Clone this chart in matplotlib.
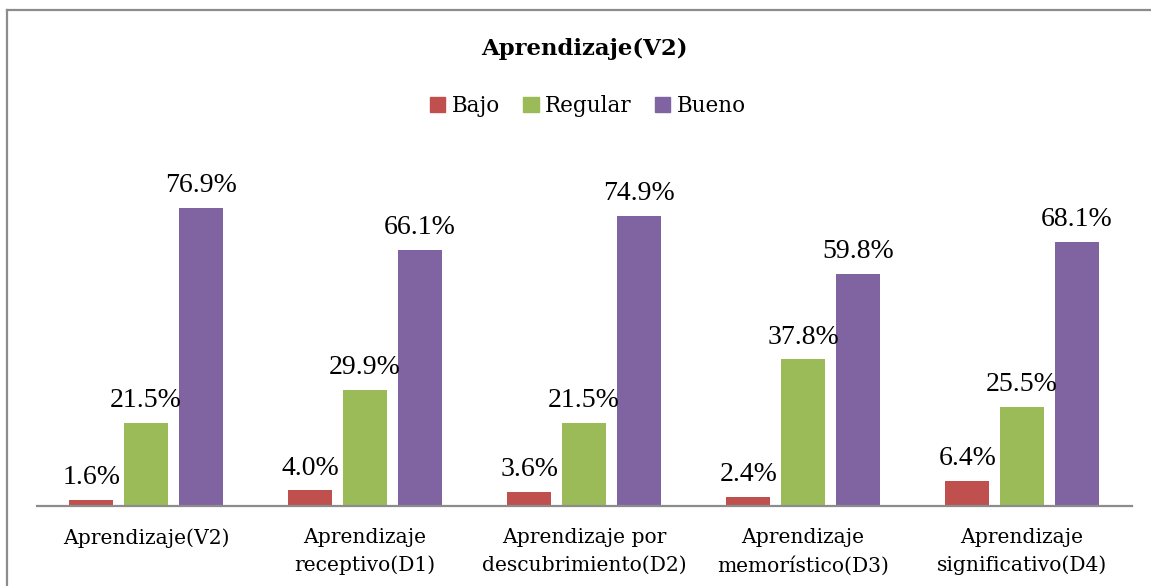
import matplotlib.pyplot as plt
import numpy as np
from matplotlib.lines import Line2D
from matplotlib.patches import Patch

plt.rcParams['font.family'] = ['DejaVu Serif']

# data
categories = ["Aprendizaje(V2)", "Aprendizaje\nreceptivo(D1)", "Aprendizaje por\ndescubrimiento(D2)",
              "Aprendizaje\nmemorístico(D3)", "Aprendizaje\nsignificativo(D4)"]
series = ["Bajo", "Regular", "Bueno"]
bajo = [1.6, 4.0, 3.6, 2.4, 6.4]
regular = [21.5, 29.9, 21.5, 37.8, 25.5]
bueno = [76.9, 66.1, 74.9, 59.8, 68.1]
colors = ["#C0504D", "#9BBB59", "#8064A2"]

W, H = 1151, 586
fig = plt.figure(figsize=(W / 100, H / 100), dpi=100)
ax = fig.add_axes([36.5 / W, 80 / H, 1095 / W, 349 / H])

x = np.arange(len(categories))
for i, (vals, c) in enumerate(zip([bajo, regular, bueno], colors)):
    bars = ax.bar(x + (i - 1) * 0.25, vals, width=0.2, color=c, label=series[i], zorder=2)
    ax.bar_label(bars, labels=[f"{v:.1f}%" for v in vals], padding=7, fontsize=20,
                 family='Liberation Serif')

ax.set_xlim(-0.5, len(categories) - 0.5)
ax.set_ylim(0, 90)
ax.set_yticks([])
ax.set_xticks(x)
ax.set_xticklabels(categories, fontsize=14.6, linespacing=1.55)
ax.tick_params(axis='x', length=0, pad=16)
for s in ['top', 'right', 'left']:
    ax.spines[s].set_visible(False)
ax.spines['bottom'].set_color('#8c8c8c')
ax.spines['bottom'].set_linewidth(1.6)

fig.text(584 / W, 1 - 55 / H, "Aprendizaje(V2)", ha='center', va='baseline',
         fontsize=16.4, fontweight='bold')

handles = [Patch(color=c, label=s) for c, s in zip(colors, series)]
fig.legend(handles=handles, loc='center', bbox_to_anchor=(588 / W, 1 - 106 / H), ncol=3,
           frameon=False, fontsize=15.5, handlelength=0.7, handleheight=0.7,
           handletextpad=0.3, columnspacing=1.1, borderpad=0)

# outer chart border
fig.add_artist(Line2D([7.5 / W, 7.5 / W], [0, 1 - 9.5 / H], color='#8c8c8c', lw=1.6))
fig.add_artist(Line2D([7.5 / W, 1], [1 - 9.5 / H, 1 - 9.5 / H], color='#8c8c8c', lw=1.6))

fig.savefig("out.png", dpi=100)
